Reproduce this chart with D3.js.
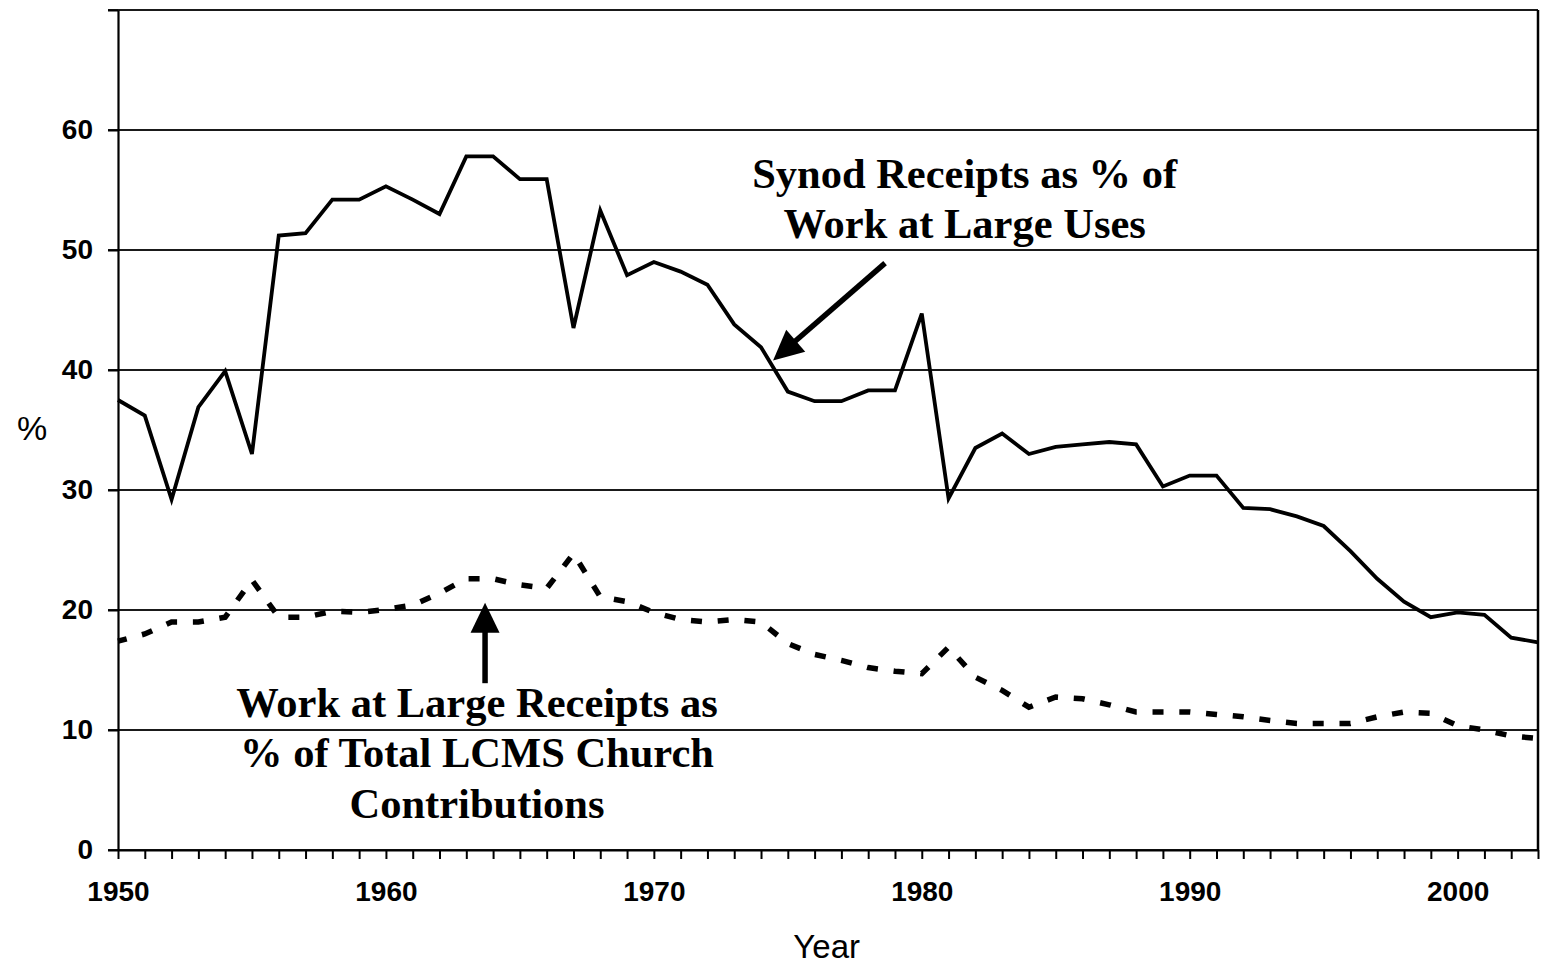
<!DOCTYPE html>
<html>
<head>
<meta charset="utf-8">
<script src="https://cdn.jsdelivr.net/npm/d3@7"></script>
<style>
  body { margin: 0; background: #fff; }
  svg { display: block; }
</style>
</head>
<body>
<div id="grafico"></div>
<script>
const WIDTH = 1545;
const HEIGHT = 966;

const years = [1950,1951,1952,1953,1954,1955,1956,1957,1958,1959,
               1960,1961,1962,1963,1964,1965,1966,1967,1968,1969,
               1970,1971,1972,1973,1974,1975,1976,1977,1978,1979,
               1980,1981,1982,1983,1984,1985,1986,1987,1988,1989,
               1990,1991,1992,1993,1994,1995,1996,1997,1998,1999,
               2000,2001,2002,2003];

// Synod Receipts as % of Work at Large Uses
const synodPct = [37.5,36.2,29.2,36.9,39.9,33.0,51.2,51.4,54.2,54.2,
                  55.3,54.2,53.0,57.8,57.8,55.9,55.9,43.5,53.3,47.9,
                  49.0,48.2,47.1,43.8,41.9,38.2,37.4,37.4,38.3,38.3,
                  44.7,29.3,33.5,34.7,33.0,33.6,33.8,34.0,33.8,30.3,
                  31.2,31.2,28.5,28.4,27.8,27.0,24.9,22.6,20.7,19.4,
                  19.8,19.6,17.7,17.3];

// Work at Large Receipts as % of Total LCMS Church Contributions
const walPct = [17.4,18.0,19.0,19.0,19.4,22.5,19.4,19.4,19.9,19.8,
                20.05,20.4,21.4,22.6,22.6,22.1,21.8,24.7,21.1,20.7,
                19.8,19.2,19.0,19.2,19.0,17.2,16.3,15.8,15.2,14.9,
                14.7,16.9,14.4,13.3,11.9,12.75,12.6,12.1,11.5,11.5,
                11.5,11.3,11.1,10.8,10.55,10.55,10.55,11.1,11.5,11.4,
                10.35,10.0,9.5,9.3];

const yTicks = [0,10,20,30,40,50,60,70];
const yTickLabels = ["0","10","20","30","40","50","60",""];
const xLabelYears = [1950,1960,1970,1980,1990,2000];

const synodLabel = ["Synod Receipts as % of", "Work at Large Uses"];
const walLabel = ["Work at Large Receipts as", "% of Total LCMS Church", "Contributions"];

const margin = {top: 10, left: 118, right: 7, bottom: 116};
const plotW = WIDTH - margin.left - margin.right;
const plotH = HEIGHT - margin.top - margin.bottom;

let svg = d3.select("#grafico")
    .append("svg")
    .attr("width", WIDTH)
    .attr("height", HEIGHT);

svg.append("rect")
    .attr("width", WIDTH)
    .attr("height", HEIGHT)
    .style("fill", "#fff");

let g = svg.append("g")
    .attr("transform", `translate(${margin.left},${margin.top})`);

let x = d3.scaleLinear().domain([1950, 2003]).range([0, plotW]);
let y = d3.scaleLinear().domain([0, 70]).range([plotH, 0]);

// gridlines (with the little tick stub left of the axis)
g.selectAll(".grid")
    .data(yTicks)
    .enter()
    .append("line")
    .attr("class", "grid")
    .attr("x1", -10)
    .attr("x2", plotW)
    .attr("y1", d => y(d))
    .attr("y2", d => y(d))
    .style("stroke", "#1a1a1a")
    .style("stroke-width", 1.8);

// right border
g.append("line")
    .attr("x1", plotW).attr("x2", plotW)
    .attr("y1", 0).attr("y2", plotH)
    .style("stroke", "#000")
    .style("stroke-width", 2.5);

let yAxis = d3.axisLeft(y)
    .tickValues(yTicks)
    .tickFormat((d, i) => yTickLabels[i])
    .tickSize(10)
    .tickSizeOuter(0)
    .tickPadding(15);

let yg = g.append("g").call(yAxis);

let xAxis = d3.axisBottom(x)
    .tickValues(years)
    .tickFormat(d => xLabelYears.includes(d) ? String(d) : "")
    .tickSize(9)
    .tickSizeOuter(0)
    .tickPadding(22);

let xg = g.append("g")
    .attr("transform", `translate(0,${plotH})`)
    .call(xAxis);

[yg, xg].forEach(ax => {
    ax.select(".domain").style("stroke", "#000").style("stroke-width", 2.2);
    ax.selectAll(".tick line").style("stroke", "#000").style("stroke-width", 2);
    ax.selectAll(".tick text")
        .style("fill", "#000")
        .style("font-family", "'Liberation Sans', Arial, sans-serif")
        .style("font-weight", "bold")
        .style("font-size", "28px");
});

// axis titles
svg.append("text")
    .attr("x", margin.left + x(1976.45))
    .attr("y", 958)
    .attr("text-anchor", "middle")
    .style("font-family", "'Liberation Sans', Arial, sans-serif")
    .style("font-size", "33px")
    .style("fill", "#000")
    .text("Year");

svg.append("text")
    .attr("x", 32)
    .attr("y", margin.top + y(34.2))
    .attr("text-anchor", "middle")
    .style("font-family", "'Liberation Sans', Arial, sans-serif")
    .style("font-size", "34px")
    .style("fill", "#000")
    .text("%");

let line = d3.line()
    .x((d, i) => x(years[i]))
    .y(d => y(d));

g.append("path")
    .datum(synodPct)
    .attr("d", line)
    .style("fill", "none")
    .style("stroke", "#000")
    .style("stroke-width", 3.8)
    .style("stroke-linejoin", "miter");

g.append("path")
    .datum(walPct)
    .attr("d", line)
    .style("fill", "none")
    .style("stroke", "#000")
    .style("stroke-width", 5.5)
    .style("stroke-dasharray", "11,15.8")
    .style("stroke-dashoffset", 2);

// annotations, placed in data units
function arrow(from, to) {
    let x0 = x(from[0]), y0 = y(from[1]);
    let x1 = x(to[0]), y1 = y(to[1]);
    let dx = x0 - x1, dy = y0 - y1;
    let len = Math.sqrt(dx * dx + dy * dy);
    let ux = dx / len, uy = dy / len;
    let headL = 30, headW = 14.5;
    let bx = x1 + ux * headL, by = y1 + uy * headL;
    g.append("line")
        .attr("x1", x0).attr("y1", y0)
        .attr("x2", bx - ux * 2).attr("y2", by - uy * 2)
        .style("stroke", "#000")
        .style("stroke-width", 5.5);
    g.append("path")
        .attr("d", `M${x1},${y1}L${bx - uy * headW},${by + ux * headW}L${bx + uy * headW},${by - ux * headW}Z`)
        .style("fill", "#000");
}

arrow([1978.63, 48.9], [1974.45, 40.8]);
arrow([1963.7, 13.9], [1963.7, 20.6]);

function label(lines, cx, baselines) {
    let t = g.append("text")
        .attr("text-anchor", "middle")
        .style("font-family", "'Liberation Serif', 'Times New Roman', serif")
        .style("font-weight", "bold")
        .style("font-size", "42.5px")
        .style("fill", "#000");
    lines.forEach((s, i) => {
        t.append("tspan")
            .attr("x", x(cx))
            .attr("y", y(baselines[i]))
            .text(s);
    });
}

label(synodLabel, 1981.6, [55.17, 51.0]);
label(walLabel, 1963.4, [11.08, 6.9, 2.67]);
</script>
</body>
</html>
